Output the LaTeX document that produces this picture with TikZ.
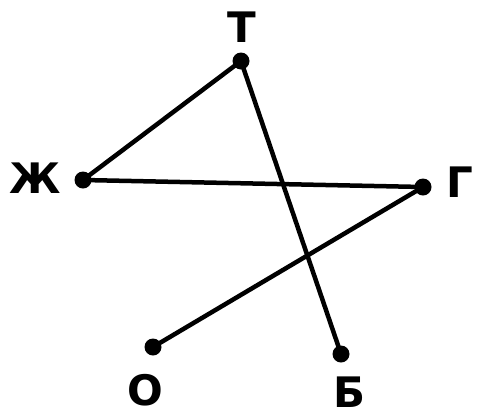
\documentclass[tikz,border=0pt]{standalone}
\usepackage{fontspec}
\setmainfont{DejaVu Sans}
\begin{document}
\begin{tikzpicture}[x=1pt,y=-1pt,
  pt/.style={circle,fill=black,inner sep=0pt,minimum size=17pt},
  lbl/.style={font=\fontsize{42}{42}\selectfont\bfseries,inner sep=0pt,anchor=center},
  edge/.style={line width=4.5pt}]
\useasboundingbox (0,0) rectangle (477,416);
\node[pt] (T) at (241,61) {};
\node[pt] (Zh) at (83,180) {};
\node[pt] (G) at (423,187) {};
\node[pt] (O) at (153,347) {};
\node[pt] (B) at (341,354) {};
\node[lbl] (lT) at (242,27) {Т};
\node[lbl] (lZh) at (35,178) {Ж};
\node[lbl] (lG) at (460,182) {Г};
\node[lbl] (lO) at (145,390) {О};
\node[lbl] (lB) at (350,392) {Б};
\draw[edge] (T.center) -- (Zh.center);
\draw[edge] (T.center) -- (B.center);
\draw[edge] (Zh.center) -- (G.center);
\draw[edge] (G.center) -- (O.center);
\end{tikzpicture}
\end{document}
